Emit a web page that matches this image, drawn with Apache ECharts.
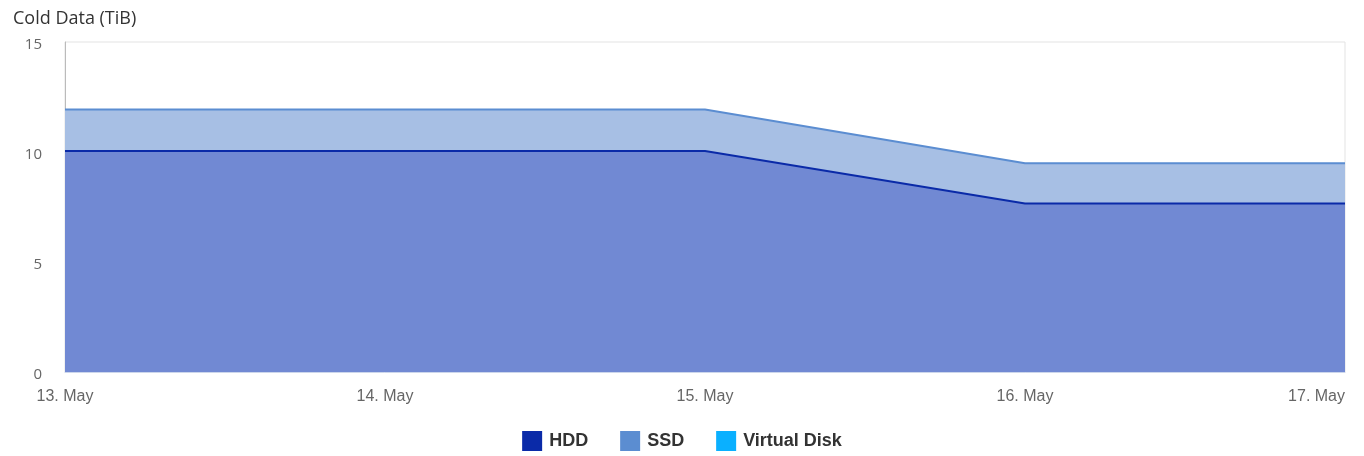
<!DOCTYPE html>
<html>
<head>
<meta charset="utf-8">
<style>
  html, body { margin: 0; padding: 0; background: #fff; }
  #chart { width: 1364px; height: 456px; }
</style>
<script src="https://cdn.jsdelivr.net/npm/echarts@6/dist/echarts.min.js"></script>
</head>
<body>
<div id="chart"></div>
<script>
// Cold data per disk tier, stacked (TiB)
const days = ['13. May', '14. May', '15. May', '16. May', '17. May'];
const hdd = [10.05, 10.05, 10.05, 7.66, 7.66];
const ssd = [1.88, 1.88, 1.88, 1.83, 1.83];
const virtualDisk = [];
const yTicks = [0, 5, 10, 15];

const chart = echarts.init(document.getElementById('chart'));

chart.setOption({
  animation: false,
  title: {
    text: 'Cold Data (TiB)',
    left: 8, top: 5,
    textStyle: { fontFamily: 'Open Sans', fontSize: 18, fontWeight: 'normal', color: '#333' }
  },
  grid: {
    left: 65, right: 19, top: 42, bottom: 84,
    show: true, borderColor: '#e3e3e3', borderWidth: 1
  },
  legend: {
    bottom: 0, left: 'center',
    icon: 'rect', itemWidth: 20, itemHeight: 20, itemGap: 32,
    textStyle: { fontFamily: 'Liberation Sans', fontSize: 18, fontWeight: 'bold', color: '#333', padding: [0, 0, 0, 2] },
    data: ['HDD', 'SSD', 'Virtual Disk']
  },
  xAxis: {
    type: 'category',
    data: days,
    boundaryGap: false,
    axisLine: { lineStyle: { color: '#ccd6eb' } },
    axisTick: { show: false },
    axisLabel: {
      fontFamily: 'Liberation Sans', fontSize: 16, color: '#666', margin: 17,
      alignMaxLabel: 'right'
    },
    splitLine: { show: false }
  },
  yAxis: {
    type: 'value',
    min: yTicks[0], max: yTicks[yTicks.length - 1], interval: 5,
    axisLine: { show: true, lineStyle: { color: '#bbb' } },
    axisTick: { show: false },
    axisLabel: {
      fontFamily: 'Open Sans', fontSize: 15, color: '#666', margin: 23,
      verticalAlign: 'top', lineHeight: 6
    },
    splitLine: { show: false }
  },
  series: [
    {
      name: 'HDD', type: 'line', stack: 'cold', data: hdd,
      symbol: 'none', color: '#0a2aa8',
      lineStyle: { width: 2, color: '#0a2aa8' },
      areaStyle: { color: '#7189d3', opacity: 1 }
    },
    {
      name: 'SSD', type: 'line', stack: 'cold', data: ssd,
      symbol: 'none', color: '#5b8dd1',
      lineStyle: { width: 2, color: '#5b8dd1' },
      areaStyle: { color: '#a7bfe4', opacity: 1 }
    },
    {
      name: 'Virtual Disk', type: 'line', stack: 'cold', data: virtualDisk,
      symbol: 'none', color: '#0ab0ff',
      lineStyle: { width: 2, color: '#0ab0ff' },
      areaStyle: { color: '#8fd6ff', opacity: 1 }
    }
  ]
});
</script>
</body>
</html>
